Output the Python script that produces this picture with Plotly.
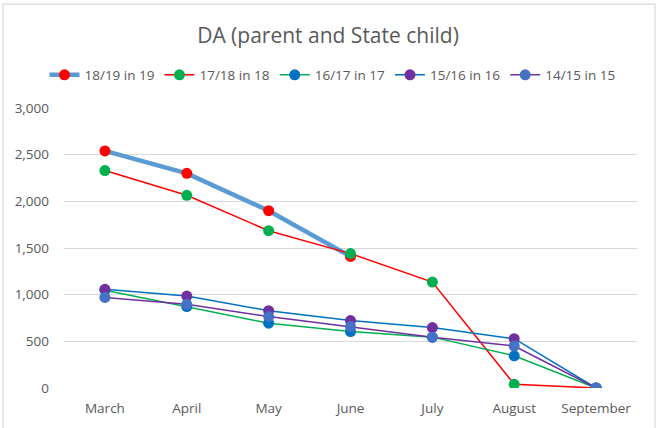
import plotly.graph_objects as go

# Month categories on the x axis
months = ["March", "April", "May", "June", "July", "August", "September"]

# Monthly counts for each year group
s_18_19 = [2540, 2300, 1900, 1410, None, None, None]
s_17_18 = [2330, 2065, 1685, 1440, 1135, 40, 0]
s_16_17 = [1048, 872, 694, 605, 545, 345, 0]
s_15_16 = [1057, 985, 828, 722, 647, 528, 0]
s_14_15 = [970, 897, 765, 658, 543, 450, 0]

series_names = ["18/19 in 19", "17/18 in 18", "16/17 in 17", "15/16 in 16", "14/15 in 15"]
series_values = [s_18_19, s_17_18, s_16_17, s_15_16, s_14_15]

# (line colour, line width, marker colour) for each series
styles = [
    ("#5B9BD5", 4.5, "#FF0000"),
    ("#FF0000", 1.5, "#00B050"),
    ("#00B050", 1.5, "#0070C0"),
    ("#0070C0", 1.5, "#7030A0"),
    ("#7030A0", 1.5, "#4472C4"),
]

fig = go.Figure()
for name, vals, (lc, lw, mc) in zip(series_names, series_values, styles):
    fig.add_trace(go.Scatter(
        x=months, y=vals, name=name, mode="lines+markers",
        line=dict(color=lc, width=lw),
        marker=dict(color=mc, size=11),
    ))

font_family = "Open Sans, Liberation Sans, sans-serif"
grey = "#595959"

fig.update_layout(
    width=656, height=428,
    margin=dict(l=64, r=19, t=108, b=40),
    paper_bgcolor="white", plot_bgcolor="white",
    font=dict(family=font_family, color=grey, size=13),
    title=dict(text="DA (parent and State child)", x=0.5, xanchor="center",
               y=1 - 36 / 428, yanchor="middle",
               font=dict(size=21, color=grey, family=font_family)),
    legend=dict(orientation="h", x=0.5 - 18 / 573, xanchor="center", y=1.0 + 33 / 280,
                yanchor="middle", font=dict(size=13.5, color=grey),
                itemwidth=30, tracegroupgap=0),
    showlegend=True,
    xaxis=dict(type="category", range=[-0.5, 6.5], showgrid=False,
               showline=False, zeroline=False, ticks="",
               ticklabelstandoff=10,
               tickfont=dict(size=13.5, color=grey), fixedrange=True),
    yaxis=dict(range=[0, 3000], dtick=500, tickformat=",",
               showgrid=True, gridcolor="#D9D9D9", gridwidth=1,
               zeroline=False, showline=False, ticks="",
               ticklabelstandoff=14,
               tickfont=dict(size=13.5, color=grey), fixedrange=True),
)

# Light chart-area frame
fig.add_shape(type="path", xref="paper", yref="paper",
              path="M -0.1065,-0.2 L -0.1065,1.371 L 1.0314,1.371 L 1.0314,-0.2",
              line=dict(color="#D9D9D9", width=1.2))

fig.write_html("out.html")
